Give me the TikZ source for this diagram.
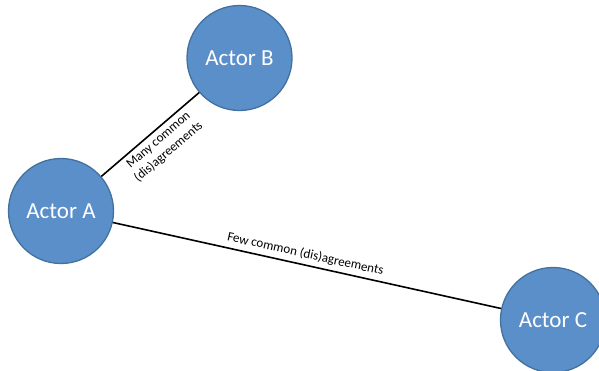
\documentclass[tikz,border=0pt]{standalone}
\usepackage{fontspec}
\setmainfont{Carlito}
\definecolor{actorfill}{RGB}{91,143,201}
\definecolor{actorline}{RGB}{65,113,156}
\begin{document}
\begin{tikzpicture}[x=1pt,y=-1pt,
  actor/.style={circle,fill=actorfill,draw=actorline,line width=1.3pt,
    minimum size=105pt,inner sep=0pt,text=white,font=\fontsize{23}{25}\selectfont},
  tie/.style={draw=black,line width=1.6pt},
  tielabel/.style={font=\fontsize{13}{15.5}\selectfont,align=center,inner sep=1pt}]
\useasboundingbox (0,0) rectangle (599,370);
\begin{scope}
\clip (0,0) rectangle (599,370);
\node[actor] (a) at (61,211) {Actor A};
\node[actor] (b) at (239.5,58) {Actor B};
\node[actor] (c) at (553,320) {Actor C};
\draw[tie] (a) -- (b)
  node[tielabel,pos=0.52,sloped,below=3pt] {Many common\\(dis)agreements};
\draw[tie] (a) -- (c)
  node[tielabel,pos=0.49,sloped,above=3pt] {Few common (dis)agreements};
\end{scope}
\end{tikzpicture}
\end{document}
